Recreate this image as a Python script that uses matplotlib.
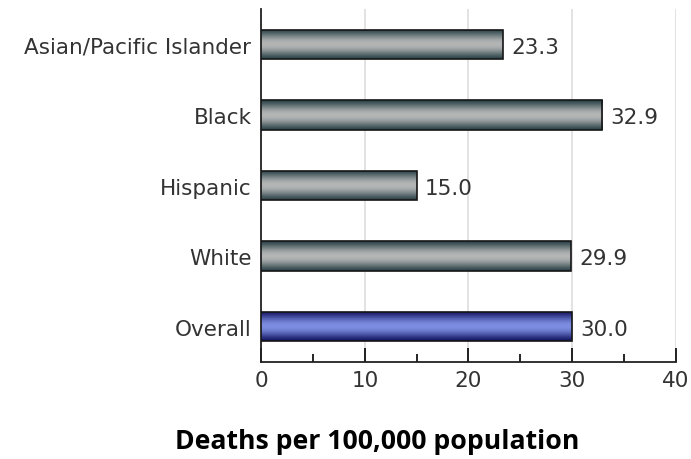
import numpy as np
import matplotlib
matplotlib.use('Agg')
import matplotlib.pyplot as plt
from matplotlib.ticker import MultipleLocator

# 数据
groups = ['Asian/Pacific Islander', 'Black', 'Hispanic', 'White', 'Overall']
rates = [23.3, 32.9, 15.0, 29.9, 30.0]
x_ticks = [0, 10, 20, 30, 40]
x_label = 'Deaths per 100,000 population'

plt.rcParams['font.family'] = ['DejaVu Sans']


# 圆柱形渐变（两边深、中间浅）
def cylinder(edge, mid, n=64):
    t = np.linspace(-1, 1, n)
    w = np.cos(t * np.pi / 2) ** 1.4
    edge = np.array(edge) / 255.0
    mid = np.array(mid) / 255.0
    return (edge[None, :] * (1 - w[:, None]) + mid[None, :] * w[:, None])[:, None, :]


gray_grad = cylinder((45, 68, 74), (180, 182, 182))
blue_grad = cylinder((20, 22, 100), (125, 142, 226))

fig = plt.figure(figsize=(6.91, 4.60), dpi=100)
ax = fig.add_axes([0.378, 0.211, 0.600, 0.767])

h = 0.42
n = len(groups)
for i, (g, v) in enumerate(zip(groups, rates)):
    y = n - 1 - i
    bar = ax.barh(y, v, height=h, color='none', edgecolor='#151515', linewidth=1.2, zorder=4)[0]
    grad = blue_grad if g == 'Overall' else gray_grad
    img = ax.imshow(grad, extent=[0, v, y - h / 2, y + h / 2], aspect='auto',
                    interpolation='bilinear', zorder=3)
    img.set_clip_path(bar)
    ax.text(v + 0.8, y - 0.03, f'{v:.1f}', va='center', ha='left', fontsize=15.5, color='#333333')

ax.set_xlim(0, 40)
ax.set_ylim(-0.5, n - 0.5)
ax.set_yticks(range(n))
ax.set_yticklabels(groups[::-1])
ax.set_xticks(x_ticks)
ax.xaxis.set_minor_locator(MultipleLocator(5))
ax.tick_params(axis='x', which='major', direction='in', length=10, width=1.2, labelsize=15.5,
               labelcolor='#333333', pad=6)
ax.tick_params(axis='x', which='minor', direction='in', length=6, width=1.2)
ax.tick_params(axis='y', length=0, labelsize=15.5, labelcolor='#333333', pad=7)
ax.grid(axis='x', color='#dddddd', linewidth=1.2, zorder=0)
ax.set_axisbelow(True)
for s in ['top', 'right']:
    ax.spines[s].set_visible(False)
for s in ['left', 'bottom']:
    ax.spines[s].set_color('#222222')
    ax.spines[s].set_linewidth(1.3)

fig.text(377 / 691, 1 - 442 / 460, x_label, ha='center', va='center',
         fontsize=19.2, fontweight='bold', family=['Open Sans', 'DejaVu Sans'], color='black')

fig.savefig('out.png', dpi=100)
